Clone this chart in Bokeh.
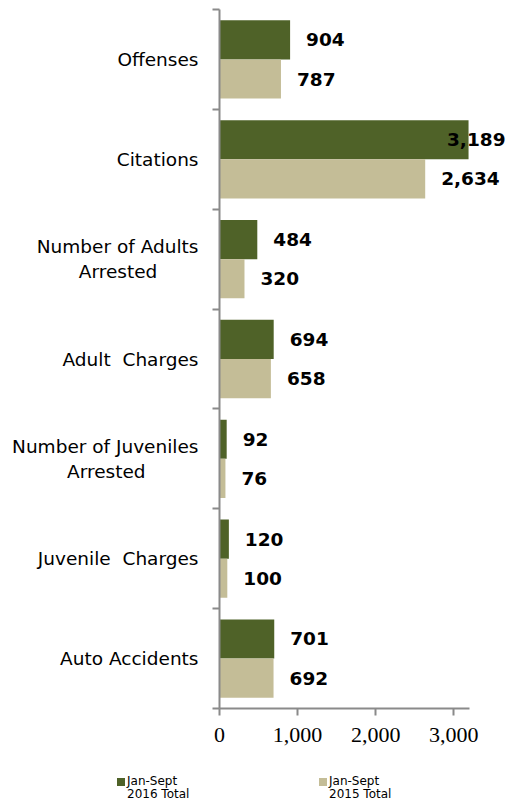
from bokeh.plotting import figure
from bokeh.layouts import column
from bokeh.models import (Range1d, FixedTicker, ColumnDataSource, NumeralTickFormatter, Div)
from bokeh.core.properties import value
from bokeh.embed import file_html
from bokeh.resources import INLINE

NB = "\u00a0"
categories = ["Offenses", "Citations", "Number of Adults\nArrested" + NB * 7,
              "Adult " + NB + "Charges", "Number of Juveniles\nArrested" + NB * 9,
              "Juvenile " + NB + "Charges", "Auto Accidents"]
total_2016 = [904, 3189, 484, 694, 92, 120, 701]
total_2015 = [787, 2634, 320, 658, 76, 100, 692]
x_ticks = [0, 1000, 2000, 3000]
series_labels = [("Jan-Sept", "2016 Total"), ("Jan-Sept", "2015 Total")]

DARK = "#4f6228"
LIGHT = "#c4bd97"
AXIS = "#8a8a8a"
AXIS_END = 3200

LEFT = 219
FRAME_TOP = 9
FRAME_W = 287
FRAME_H = 699
BOTTOM = 58
XMAX = 3675

n = len(categories)
centers = [i + 0.5 for i in range(n)]
bar_h = 0.392
off = bar_h / 2

p = figure(frame_width=FRAME_W, frame_height=FRAME_H, output_backend="svg",
           toolbar_location=None,
           x_range=Range1d(0, XMAX), y_range=Range1d(n, 0),
           min_border_left=LEFT, min_border_right=0, min_border_top=FRAME_TOP,
           min_border_bottom=BOTTOM)
p.outline_line_color = None
p.grid.visible = False


def label_cols(vals):
    xs, al, xo = [], [], []
    for v in vals:
        if v > AXIS_END - 200:
            xs.append(XMAX); al.append("right"); xo.append(-1)
        else:
            xs.append(v); al.append("left"); xo.append(16)
    return xs, al, xo


x16, a16, o16 = label_cols(total_2016)
x15, a15, o15 = label_cols(total_2015)

src16 = ColumnDataSource(dict(y=[c - off for c in centers], v=total_2016,
                              lx=x16, la=a16, lo=o16,
                              t=[f"{v:,}" for v in total_2016]))
src15 = ColumnDataSource(dict(y=[c + off for c in centers], v=total_2015,
                              lx=x15, la=a15, lo=o15,
                              t=[f"{v:,}" for v in total_2015]))

p.hbar(y="y", right="v", left=0, height=bar_h, source=src16,
       fill_color=DARK, line_color=None)
p.hbar(y="y", right="v", left=0, height=bar_h, source=src15,
       fill_color=LIGHT, line_color=None)

for src in (src16, src15):
    p.text(x="lx", y="y", text="t", source=src, x_offset="lo", text_align="la",
           text_baseline="middle", text_font=value("DejaVu Sans"),
           text_font_style="bold", text_font_size="18.5px", text_color="black")

# y axis
ya = p.yaxis[0]
ya.ticker = FixedTicker(ticks=centers, minor_ticks=list(range(n + 1)))
ya.major_label_overrides = {c: cat for c, cat in zip(centers, categories)}
ya.major_tick_out = 0
ya.major_tick_in = 0
ya.minor_tick_out = 7
ya.minor_tick_in = 0
ya.minor_tick_line_color = AXIS
ya.minor_tick_line_width = 2
ya.axis_line_color = AXIS
ya.axis_line_width = 2
ya.major_label_standoff = 14
ya.major_label_text_font = "DejaVu Sans"
ya.major_label_text_font_size = "18.5px"
ya.major_label_text_color = "black"

# x axis
xa = p.xaxis[0]
xa.ticker = FixedTicker(ticks=x_ticks)
xa.bounds = (0, AXIS_END)
xa.formatter = NumeralTickFormatter(format="0,0")
xa.major_tick_out = 7
xa.major_tick_in = 0
xa.minor_tick_line_color = None
xa.major_tick_line_color = AXIS
xa.major_tick_line_width = 2
xa.axis_line_color = AXIS
xa.axis_line_width = 2
xa.major_label_standoff = 12
xa.major_label_text_font = "Liberation Serif"
xa.major_label_text_font_size = "22px"
xa.major_label_text_color = "black"

# legend strip below the chart
item_left = [117, 319]
colors = [DARK, LIGHT]
items_html = ""
for (l1, l2), c, xl in zip(series_labels, colors, item_left):
    items_html += (
        f'<div style="position:absolute;left:{xl}px;top:9px;white-space:nowrap;">'
        f'<span style="display:inline-block;width:8px;height:8px;background:{c};'
        f'vertical-align:top;margin-top:3px;"></span>'
        f'<span style="display:inline-block;margin-left:2px;">{l1}<br>{l2}</span></div>'
    )
legend_div = Div(
    text=(f'<div style="position:relative;width:{LEFT + FRAME_W}px;height:34px;'
          f'font-family:\'DejaVu Sans\';font-size:12px;line-height:13px;color:black;">'
          f'{items_html}</div>'),
    width=LEFT + FRAME_W, height=34, margin=0)

open("out.html", "w").write(file_html(column(p, legend_div, spacing=0), INLINE))
